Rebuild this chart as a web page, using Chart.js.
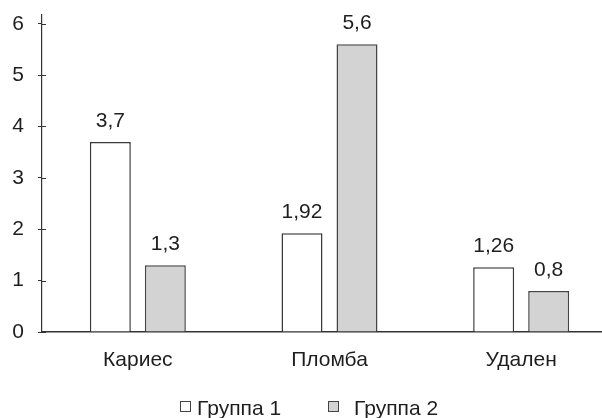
<!DOCTYPE html>
<html><head><meta charset="utf-8">
<script src="https://cdn.jsdelivr.net/npm/chart.js@4/dist/chart.umd.min.js"></script>
<style>
html,body{margin:0;padding:0;background:#fff;overflow:hidden;width:602px;height:418px}
#wrap{position:relative;width:618px;height:418px}
canvas{display:block}
</style></head>
<body><div id="wrap"><canvas id="c" width="618" height="418"></canvas></div>
<script>
const categories = ['Кариес', 'Пломба', 'Удален'];
const seriesNames = ['Группа 1', 'Группа 2'];
const group1 = [3.7, 1.92, 1.26];
const group2 = [1.3, 5.6, 0.8];
const yTicks = [0, 1, 2, 3, 4, 5, 6];

const FONT = '"Liberation Sans", Arial, sans-serif';
const FS = 21;
const AXIS = '#333333';
const TEXT = '#1e1e1e';

const fmt = v => String(v).replace('.', ',');

const crossTicks = {
  id: 'crossTicks',
  afterDraw(chart) {
    const y = chart.scales.y, ctx = chart.ctx;
    ctx.save();
    ctx.strokeStyle = AXIS; ctx.lineWidth = 1;
    y.ticks.forEach(t => {
      const py = Math.round(y.getPixelForValue(t.value)) + 0.5;
      ctx.beginPath(); ctx.moveTo(chart.chartArea.left, py); ctx.lineTo(chart.chartArea.left + 4, py); ctx.stroke();
    });
    ctx.restore();
  }
};

const valueLabels = {
  id: 'valueLabels',
  afterDatasetsDraw(chart) {
    const ctx = chart.ctx;
    ctx.save();
    ctx.font = FS + 'px ' + FONT; ctx.fillStyle = TEXT;
    ctx.textAlign = 'center'; ctx.textBaseline = 'alphabetic';
    chart.data.datasets.forEach((ds, i) => {
      chart.getDatasetMeta(i).data.forEach((bar, j) => {
        ctx.fillText(fmt(ds.data[j]), bar.x, bar.y - 15);
      });
    });
    ctx.restore();
  }
};

const legendItems = [{box: 180, text: 197}, {box: 328, text: 354}];
const customLegend = {
  id: 'customLegend',
  afterDraw(chart) {
    const ctx = chart.ctx;
    ctx.save();
    ctx.font = FS + 'px ' + FONT; ctx.textBaseline = 'alphabetic'; ctx.textAlign = 'left';
    chart.data.datasets.forEach((ds, i) => {
      const p = legendItems[i];
      ctx.fillStyle = ds.backgroundColor;
      ctx.fillRect(p.box, 401.5, 10, 10);
      ctx.strokeStyle = '#444'; ctx.lineWidth = 1;
      ctx.strokeRect(p.box + 0.5, 401.5, 10, 10);
      ctx.fillStyle = TEXT;
      ctx.fillText(ds.label, p.text, 415);
    });
    ctx.restore();
  }
};

new Chart(document.getElementById('c'), {
  type: 'bar',
  data: {
    labels: categories,
    datasets: [
      {label: seriesNames[0], data: group1, backgroundColor: '#ffffff', borderColor: '#3a3a3a', borderWidth: 1.5,
       categoryPercentage: 0.574, barPercentage: 0.745},
      {label: seriesNames[1], data: group2, backgroundColor: '#d3d3d3', borderColor: '#444444', borderWidth: 1.5,
       categoryPercentage: 0.574, barPercentage: 0.745}
    ]
  },
  options: {
    responsive: false,
    animation: false,
    layout: {padding: {top: 15, right: 1, left: 0, bottom: 0}},
    plugins: {legend: {display: false}, tooltip: {enabled: false}},
    scales: {
      x: {
        grid: {display: false, drawTicks: false},
        border: {display: true, color: AXIS, width: 1.5},
        ticks: {font: {family: FONT, size: FS}, color: TEXT, padding: 16},
        afterFit(s) { s.height = 86; s.paddingLeft = 0; s.paddingRight = 0; }
      },
      y: {
        min: 0, max: 6.17,
        afterBuildTicks(s) { s.ticks = yTicks.map(v => ({value: v})); },
        grid: {drawOnChartArea: false, drawTicks: true, tickLength: 4, color: AXIS, lineWidth: 1},
        border: {display: true, color: AXIS, width: 1.2},
        ticks: {font: {family: FONT, size: FS}, color: TEXT, padding: 14, callback: v => fmt(v)},
        afterFit(s) { s.width = 42; s.paddingTop = 0; s.paddingBottom = 0; }
      }
    }
  },
  plugins: [crossTicks, valueLabels, customLegend]
});
</script>
</body></html>
